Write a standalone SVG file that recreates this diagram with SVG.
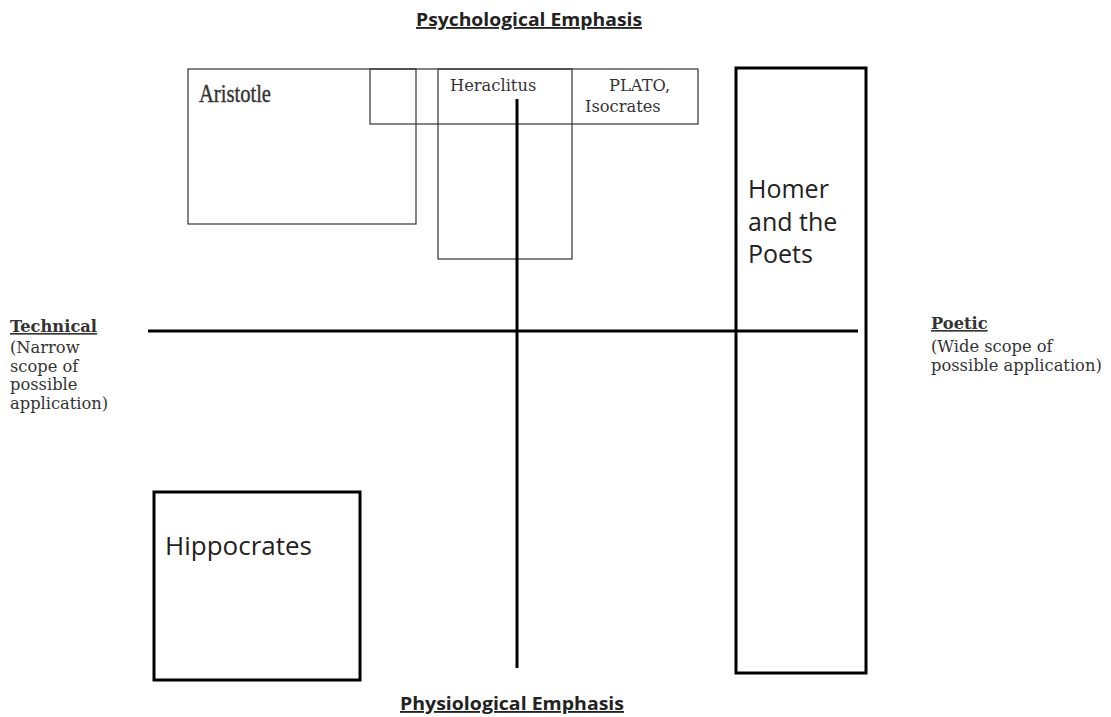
<svg xmlns="http://www.w3.org/2000/svg" width="1111" height="717" viewBox="0 0 1111 717">
<style>
.thin{fill:none;stroke:#333;stroke-width:1.2}
.thick{fill:none;stroke:#000;stroke-width:3}
.serif{font-family:"DejaVu Serif","Liberation Serif",serif;fill:#333;font-size:16.3px}
.sans{font-family:"Open Sans","Noto Sans",sans-serif;fill:#222}
.head{font-family:"Open Sans","Liberation Sans",sans-serif;font-weight:bold;font-size:18.5px;fill:#222;text-decoration:underline}
</style>
<rect width="1111" height="717" fill="#fff"/>
<g id="axis-labels">
<text class="head" x="416" y="26" textLength="226" lengthAdjust="spacingAndGlyphs">Psychological Emphasis</text>
<text class="head" x="400" y="710" textLength="224" lengthAdjust="spacingAndGlyphs">Physiological Emphasis</text>
<text class="serif" x="10" y="332" font-weight="bold" text-decoration="underline">Technical</text>
<text class="serif" x="10" y="353">(Narrow</text>
<text class="serif" x="10" y="372">scope of</text>
<text class="serif" x="10" y="390">possible</text>
<text class="serif" x="10" y="409">application)</text>
<text class="serif" x="931" y="329" font-weight="bold" text-decoration="underline">Poetic</text>
<text class="serif" x="931" y="352">(Wide scope of</text>
<text class="serif" x="931" y="371">possible application)</text>
</g>
<g id="aristotle">
<rect class="thin" x="188" y="69" width="228" height="155"/>
<text x="199" y="102" font-family="'Liberation Serif',serif" font-size="25" fill="#333" stroke="#333" stroke-width="0.4" textLength="72" lengthAdjust="spacingAndGlyphs">Aristotle</text>
</g>
<g id="top-band">
<rect class="thin" x="370" y="69" width="328" height="55"/>
</g>
<g id="heraclitus">
<rect class="thin" x="438" y="69" width="134" height="190"/>
<text class="serif" x="450" y="91">Heraclitus</text>
</g>
<g id="plato">
<text class="serif" x="609" y="91">PLATO,</text>
<text class="serif" x="585" y="112">Isocrates</text>
</g>
<g id="homer">
<rect class="thick" x="736" y="68" width="130" height="605"/>
<text class="sans" x="748" y="198" font-size="25">Homer</text>
<text class="sans" x="748" y="231" font-size="25">and the</text>
<text class="sans" x="748" y="263" font-size="25">Poets</text>
</g>
<g id="hippocrates">
<rect class="thick" x="154" y="492" width="206" height="188"/>
<text class="sans" x="165" y="555" font-size="26">Hippocrates</text>
</g>
<g id="connectors">
<line class="thick" x1="148" y1="331" x2="858" y2="331"/>
<line class="thick" x1="517" y1="99" x2="517" y2="668"/>
</g>
</svg>
